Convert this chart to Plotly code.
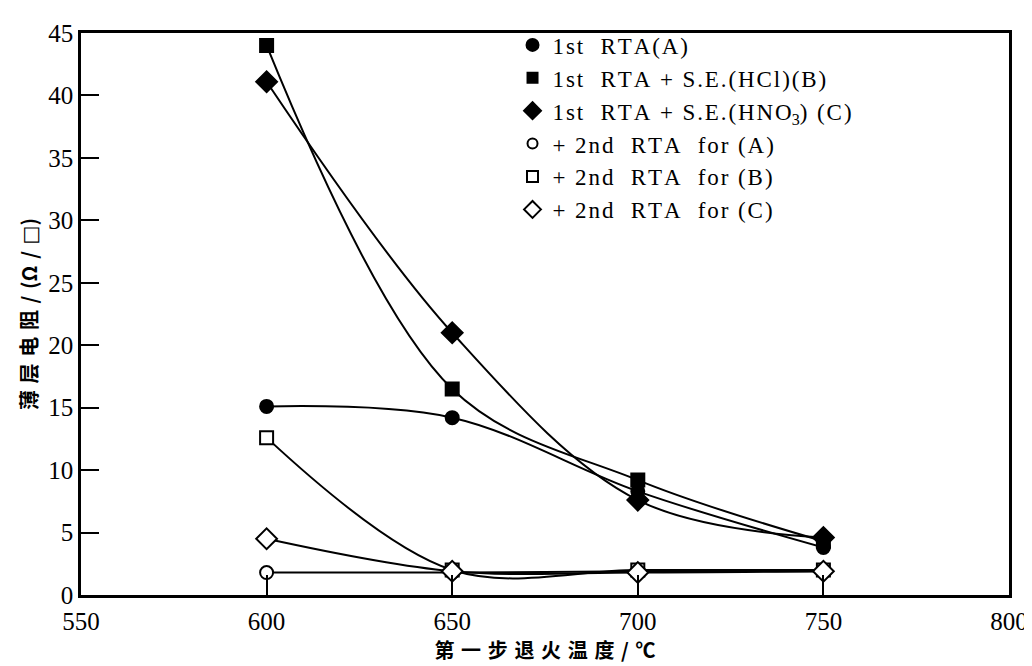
import re
import plotly.graph_objects as go

temps = [600, 650, 700, 750]
rta_a = [15.1, 14.2, 8.3, 3.8]
rta_b = [44.0, 16.5, 9.2, 4.3]
rta_c = [41.1, 21.0, 7.6, 4.6]
rta2_a = [1.8, 1.8, 1.9, 1.9]
rta2_b = [12.6, 2.0, 2.0, 2.0]
rta2_c = [4.5, 1.9, 1.8, 1.9]

names = ["1st  RTA(A)",
         "1st  RTA + S.E.(HCl)(B)",
         "1st  RTA + S.E.(HNO<sub>3</sub>) (C)",
         "+ 2nd  RTA  for (A)",
         "+ 2nd  RTA  for (B)",
         "+ 2nd  RTA  for (C)"]
series = [rta_a, rta_b, rta_c, rta2_a, rta2_b, rta2_c]
symbols = ["circle", "square", "diamond", "circle", "square", "diamond"]
filled = [True, True, True, False, False, False]
sizes = [13, 13, 16, 13, 13, 16]
leg_symbols = ["circle", "square", "diamond", "circle-open", "square-open", "diamond-open"]
leg_sizes = [12, 10, 13, 10, 11, 13]


def tracked(s, sp="\u200a"):
    # add letter spacing between visible characters, leaving tags intact
    parts = re.split(r"(<[^>]+>)", s)
    out = []
    for p in parts:
        if p.startswith("<"):
            out.append(p)
        else:
            out.append(sp.join(p))
    return "".join(out)


fig = go.Figure()
for name, ys, sym, sz, fl in zip(names, series, symbols, sizes, filled):
    fig.add_trace(go.Scatter(
        x=temps, y=ys, mode="lines+markers", showlegend=False,
        line=dict(color="black", width=2, shape="spline", smoothing=1.0),
        marker=dict(symbol=sym, size=sz, color="black" if fl else "white",
                    line=dict(color="black", width=2)),
    ))
for name, sym, sz in zip(names, leg_symbols, leg_sizes):
    fig.add_trace(go.Scatter(
        x=[None], y=[None], mode="markers", name=tracked(name), showlegend=True,
        marker=dict(symbol=sym, size=sz, color="black",
                    line=dict(color="black", width=2)),
    ))

serif = "Liberation Serif"
cjk = "Noto Sans CJK SC"
gap = "\u2004"
x_title = gap.join(["第", "一", "步", "退", "火", "温", "度", "/", "℃"])
y_title = gap.join(["薄", "层", "电", "阻", "/", "(Ω", "/",
                    "<span style='font-family:DejaVu Sans'>\u25a1</span>)"])

fig.update_layout(
    width=1032, height=666,
    margin=dict(l=73, r=24, t=15, b=79),
    paper_bgcolor="white", plot_bgcolor="white",
    font=dict(family=serif, color="black"),
    legend=dict(x=0.465, y=1.017, xanchor="left", yanchor="top",
                font=dict(family=serif, size=23, color="black"),
                bgcolor="rgba(0,0,0,0)", tracegroupgap=0, itemwidth=30),
    xaxis=dict(range=[550, 800], tickvals=[550, 600, 650, 700, 750, 800],
               ticks="inside", ticklen=20, tickwidth=2, tickcolor="black",
               showline=True, linecolor="black", linewidth=2.5, mirror=True,
               showgrid=False, zeroline=False, ticklabelstandoff=2,
               tickfont=dict(family=serif, size=25, color="black"),
               title=dict(text=x_title, standoff=8,
                          font=dict(family=cjk, size=20, color="black", weight="bold"))),
    yaxis=dict(range=[0, 45], tickvals=[0, 5, 10, 15, 20, 25, 30, 35, 40, 45],
               ticks="inside", ticklen=18, tickwidth=2, tickcolor="black",
               showline=True, linecolor="black", linewidth=2.5, mirror=True,
               showgrid=False, zeroline=False,
               tickfont=dict(family=serif, size=25, color="black"),
               title=dict(text=y_title, standoff=6,
                          font=dict(family=cjk, size=20, color="black", weight="bold"))),
)

fig.write_html("out.html")
